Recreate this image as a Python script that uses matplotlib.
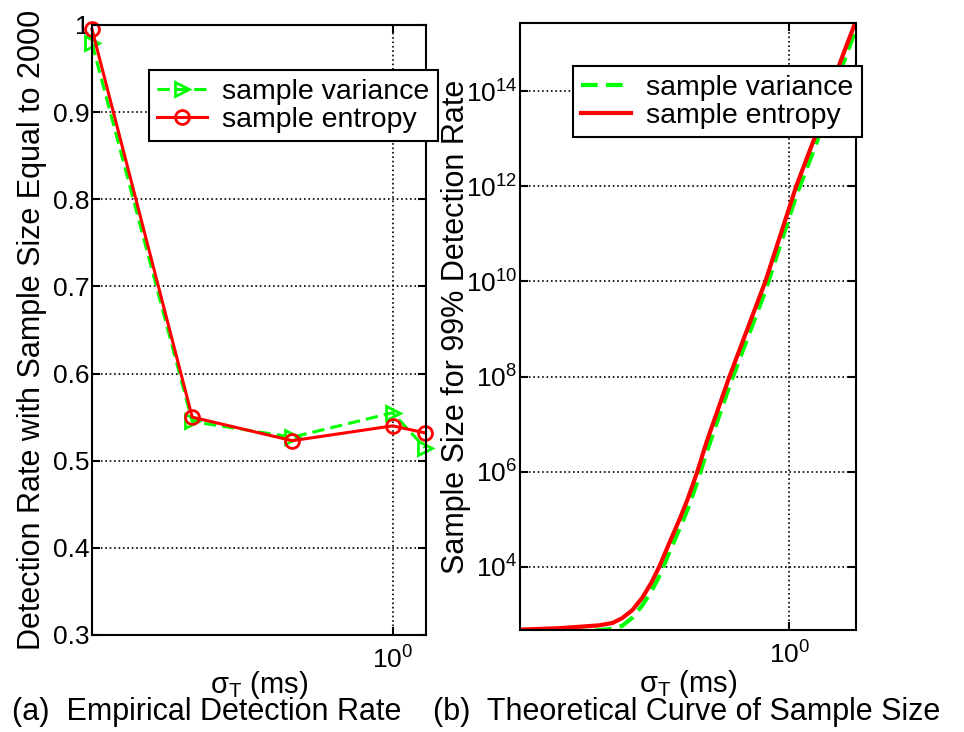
import matplotlib
matplotlib.use("Agg")
import matplotlib.pyplot as plt
from matplotlib.ticker import LogFormatterSciNotation, LogLocator, NullLocator, FixedLocator

plt.rcParams["font.family"] = "Liberation Sans"
plt.rcParams["mathtext.fontset"] = "custom"
plt.rcParams["mathtext.rm"] = "Liberation Sans"
plt.rcParams["mathtext.it"] = "Liberation Sans:italic"
plt.rcParams["mathtext.bf"] = "Liberation Sans:bold"

# ======================= (a) empirical detection rate ======================= #
sigma_a = [0.125, 0.25, 0.5, 1.0, 1.25]
rate_var = [0.979, 0.545, 0.527, 0.555, 0.515]
rate_ent = [0.995, 0.550, 0.523, 0.540, 0.532]
yticks_a = [0.3, 0.4, 0.5, 0.6, 0.7, 0.8, 0.9, 1.0]
ylabels_a = ["0.3", "0.4", "0.5", "0.6", "0.7", "0.8", "0.9", "1"]

# ======================= (b) theoretical sample size ======================= #
sigma_b = [0.150, 0.198, 0.228, 0.262, 0.288, 0.308, 0.331, 0.355, 0.378, 0.400,
           0.430, 0.461, 0.488, 0.523, 0.557, 0.656, 0.845, 1.05, 1.21, 1.42, 1.59]
size_ent = [479, 513, 550, 589, 661, 832, 1230, 2239, 4571, 1.0e4,
            3.24e4, 9.8e4, 2.57e5, 1.0e6, 4.0e6, 1.0e8, 1.0e10, 1.0e12, 1.3e13, 3.5e14, 2.7e15]
size_var = [417, 427, 447, 468, 501, 575, 851, 1549, 3020, 6310,
            2.04e4, 6.17e4, 1.58e5, 6.03e5, 2.4e6, 6.3e7, 6.3e9, 6.3e11, 7.9e12, 2.2e14, 1.8e15]
yticks_b = [1e4, 1e6, 1e8, 1e10, 1e12, 1e14]

labels = ["sample variance", "sample entropy"]
GREEN = "#00ff00"
RED = "#ff0000"
W, H = 964, 732

fig = plt.figure(figsize=(W / 100, H / 100), dpi=100)
ax1 = fig.add_axes([92 / W, 1 - 635 / H, 334 / W, 610 / H])
ax2 = fig.add_axes([520 / W, 1 - 630 / H, 336 / W, 607 / H])


def style(ax):
    ax.set_xscale("log")
    ax.xaxis.set_major_locator(LogLocator(base=10))
    ax.xaxis.set_minor_locator(NullLocator())
    ax.tick_params(which="both", direction="in", top=True, right=True,
                   length=6, width=1.5, labelsize=19, pad=2)
    ax.tick_params(axis="x", pad=8)
    for s in ax.spines.values():
        s.set_linewidth(1.5)
    ax.grid(True, which="major", color="black", linestyle=":", linewidth=1.2)


def add_legend(ax, x_right, y_top):
    leg = ax.legend(loc="upper right", bbox_to_anchor=(x_right / W, 1 - y_top / H),
                    bbox_transform=fig.transFigure, borderaxespad=0,
                    fancybox=False, framealpha=1, edgecolor="black", fontsize=20.5,
                    handlelength=1.75, handletextpad=0.53, borderpad=0.3,
                    labelspacing=0.08, numpoints=1)
    leg.get_frame().set_linewidth(1.5)
    return leg


# == (a) == #
style(ax1)
ax1.plot(sigma_a, rate_var, "--", color=GREEN, lw=2.2, marker=">", ms=10,
         mfc="none", mew=2, dashes=(4, 2), clip_on=False, label=labels[0])
ax1.plot(sigma_a, rate_ent, "-", color=RED, lw=2.2, marker="o", ms=10,
         mfc="none", mew=2, clip_on=False, label=labels[1])
ax1.set_xlim(0.125, 1.26)
ax1.set_ylim(0.3, 1.0)
ax1.set_yticks(yticks_a)
ax1.set_yticklabels(ylabels_a)
ax1.set_ylabel("Detection Rate with Sample Size Equal to 2000", fontsize=22)
ax1.yaxis.set_label_coords(-0.135, 0.5)
ax1.set_xlabel("σ$_\\mathregular{T}$ (ms)", fontsize=21)
ax1.xaxis.set_label_coords(0.5, -0.055)
add_legend(ax1, 438, 70)

# == (b) == #
style(ax2)
ax2.set_yscale("log")
ax2.plot(sigma_b, size_var, color=GREEN, lw=3, dashes=(4, 2), label=labels[0])
ax2.plot(sigma_b, size_ent, color=RED, lw=3, label=labels[1])
ax2.set_xlim(0.15, 1.6)
ax2.set_ylim(470, 2.7e15)
ax2.yaxis.set_major_locator(FixedLocator(yticks_b))
ax2.yaxis.set_major_formatter(LogFormatterSciNotation())
ax2.yaxis.set_minor_locator(NullLocator())
ax2.set_ylabel("Sample Size for 99% Detection Rate", fontsize=22)
ax2.yaxis.set_label_coords(-0.146, 0.5)
ax2.set_xlabel("σ$_\\mathregular{T}$ (ms)", fontsize=21)
ax2.xaxis.set_label_coords(0.5, -0.063)
add_legend(ax2, 862, 66)

# captions
fig.text(12 / W, 1 - 712 / H, "(a)  Empirical Detection Rate", fontsize=22,
         ha="left", va="center")
fig.text(433 / W, 1 - 712 / H, "(b)  Theoretical Curve of Sample Size",
         fontsize=22, ha="left", va="center")

fig.savefig("out.png", dpi=100)
